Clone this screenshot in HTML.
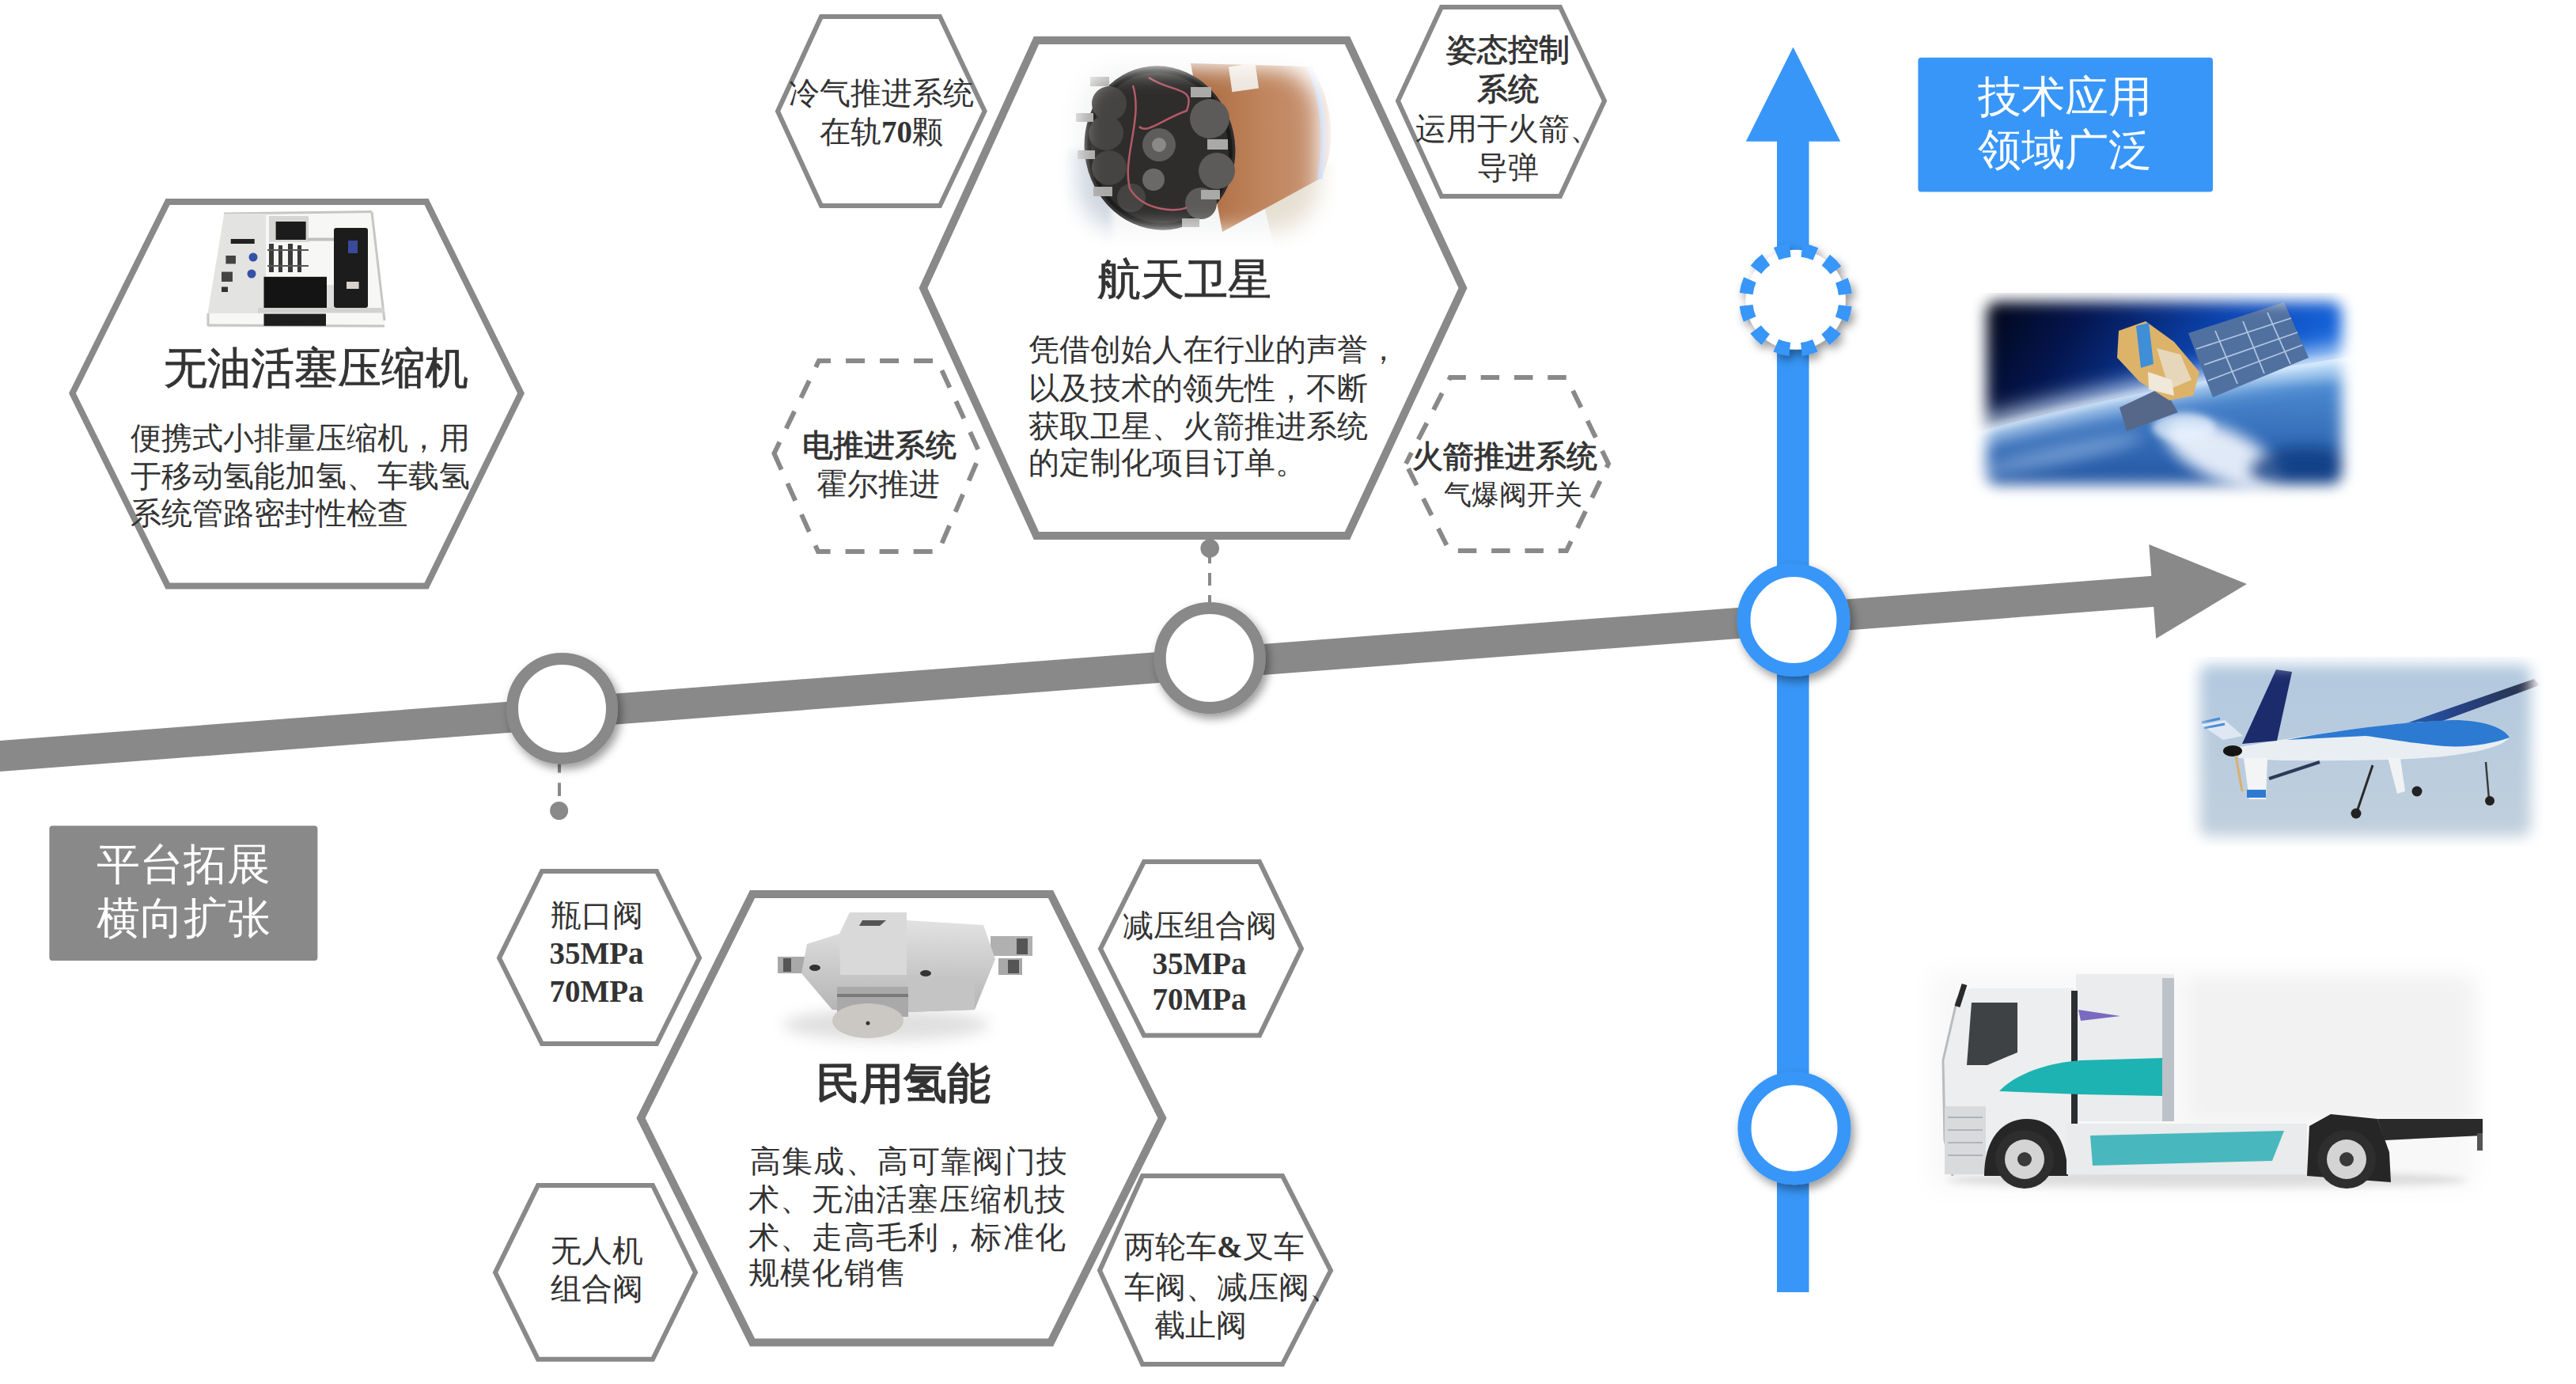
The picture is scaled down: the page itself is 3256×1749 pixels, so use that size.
<!DOCTYPE html>
<html><head><meta charset="utf-8">
<style>
html,body{margin:0;padding:0;background:#fff;}
body{width:3256px;height:1749px;overflow:hidden;position:relative;}
svg{position:absolute;left:0;top:0;}
text{font-family:"Liberation Serif",serif;fill:#333;}
</style></head><body>
<svg width="3256" height="1749" viewBox="0 0 3256 1749">
<defs>
<filter id="sh" x="-30%" y="-30%" width="160%" height="160%">
  <feDropShadow dx="4" dy="6" stdDeviation="6" flood-color="#000" flood-opacity="0.4"/>
</filter>
<filter id="soft" x="-10%" y="-10%" width="120%" height="120%"><feGaussianBlur stdDeviation="8"/></filter>
</defs>

<!-- gray timeline -->
<line x1="-5" y1="955.9" x2="2722" y2="747.3" stroke="#898989" stroke-width="39"/>
<polygon points="2716.3,688 2839.9,738 2725.2,807" fill="#898989"/>

<!-- blue vertical arrow -->
<rect x="2246" y="170" width="40.5" height="1463" fill="#3896f8"/>
<polygon points="2266.5,59.4 2326.2,178.7 2206.8,178.7" fill="#3896f8"/>

<!-- hexagons -->
<g fill="#fff" stroke="#898989">
 <polygon stroke-width="8" points="212,255 539,255 658.5,497 539,740.5 212,740.5 91.5,497"/>
 <polygon stroke-width="10" points="1310,51 1703,51 1849,364 1703,677 1310,677 1167,364"/>
 <polygon stroke-width="10" points="951,1130 1328,1130 1469,1413 1328,1696.5 951,1696.5 810,1413"/>
 <polygon stroke-width="6" points="1038,21 1188,21 1244.6,140.5 1188,260 1038,260 983,140.5"/>
 <polygon stroke-width="6" points="1822,9 1972,9 2028,127.5 1972,248 1822,248 1767,127.5"/>
 <polygon stroke-width="6" stroke-dasharray="24 19" stroke-dashoffset="8" points="978.5,573 1035,456 1185,456 1239,574 1186,697 1034,697"/>
 <polygon stroke-width="6" stroke-dasharray="23.5 18.8" stroke-dashoffset="8" points="1777,586 1833,477 1980,477 2033,586 1980,696 1832,696"/>
 <polygon stroke-width="6" points="685,1101 830,1101 884,1210.6 830,1319 685,1319 631,1210.6"/>
 <polygon stroke-width="6" points="1446,1089 1592,1089 1645,1199 1592,1308.6 1446,1308.6 1391,1199"/>
 <polygon stroke-width="6" points="680,1498 825,1498 879,1608 825,1717.7 680,1717.7 626,1608"/>
 <polygon stroke-width="6" points="1444,1486 1621,1486 1682,1605.6 1621,1724 1444,1724 1390,1605.6"/>
</g>

<!-- connectors -->
<line x1="707" y1="1006" x2="707" y2="955" stroke="#898989" stroke-width="4" stroke-dasharray="16.7 12.9"/>
<circle cx="706.6" cy="1024.5" r="11.5" fill="#898989"/>
<line x1="1529" y1="696" x2="1529" y2="770" stroke="#898989" stroke-width="4" stroke-dasharray="16 12"/>
<circle cx="1529.2" cy="693" r="11.8" fill="#898989"/>

<!-- circles -->
<g filter="url(#sh)">
<circle cx="710.5" cy="895.4" r="63" fill="#fff" stroke="#898989" stroke-width="15"/>
<circle cx="1529.2" cy="831.6" r="63" fill="#fff" stroke="#898989" stroke-width="15"/>
<circle cx="2267" cy="783.5" r="63" fill="#fff" stroke="#3896f8" stroke-width="17"/>
<circle cx="2268" cy="1425.7" r="63" fill="#fff" stroke="#3896f8" stroke-width="17"/>
<circle cx="2269.7" cy="378.8" r="63" fill="#fff" stroke="#3896f8" stroke-width="17" stroke-dasharray="18 14.98" stroke-dashoffset="25.5"/>
</g>

<!-- boxes -->
<rect x="62.4" y="1043.6" width="339" height="170.4" rx="4" fill="#898989"/>
<rect x="2424.4" y="72.8" width="372.6" height="169.7" rx="4" fill="#3896f8"/>
<g style="fill:#fff" font-size="55" text-anchor="middle">
 <text x="232" y="1111" style="fill:#fff">平台拓展</text>
 <text x="232" y="1179" style="fill:#fff">横向扩张</text>
 <text x="2610" y="141" style="fill:#fff">技术应用</text>
 <text x="2610" y="208" style="fill:#fff">领域广泛</text>
</g>

<!-- IMAGES -->
<defs>
 <filter id="b10" x="-100%" y="-100%" width="300%" height="300%"><feGaussianBlur stdDeviation="9"/></filter>
 <filter id="b4" x="-100%" y="-100%" width="300%" height="300%"><feGaussianBlur stdDeviation="4"/></filter>
 <filter id="b2" x="-100%" y="-100%" width="300%" height="300%"><feGaussianBlur stdDeviation="1.5"/></filter>
 <filter id="b14" x="-100%" y="-100%" width="300%" height="300%"><feGaussianBlur stdDeviation="14"/></filter>
 <mask id="m_sat" maskUnits="userSpaceOnUse" x="2400" y="300" width="700" height="400"><rect x="2511" y="381" width="449" height="231" rx="14" fill="#fff" filter="url(#b10)"/></mask>
 <mask id="m_dr" maskUnits="userSpaceOnUse" x="2700" y="780" width="556" height="340"><rect x="2780" y="840" width="419" height="217" rx="12" fill="#fff" filter="url(#b10)"/></mask>
 <mask id="m_tr" maskUnits="userSpaceOnUse" x="2350" y="1150" width="860" height="420"><rect x="2440" y="1228" width="690" height="275" rx="20" fill="#fff" filter="url(#b14)"/></mask>
 <mask id="m_th" maskUnits="userSpaceOnUse" x="1300" y="30" width="430" height="320"><rect x="1362" y="86" width="305" height="206" rx="60" fill="#fff" filter="url(#b14)"/></mask>
 <linearGradient id="g_sp" x1="0" y1="0" x2="1" y2="0.35">
  <stop offset="0" stop-color="#010208"/><stop offset="0.3" stop-color="#041650"/><stop offset="0.65" stop-color="#0c48b8"/><stop offset="1" stop-color="#1a70e8"/>
 </linearGradient>
 <linearGradient id="g_ea" x1="0" y1="0" x2="0" y2="1">
  <stop offset="0" stop-color="#a8d4f8"/><stop offset="0.22" stop-color="#4a88d0"/><stop offset="1" stop-color="#1a4a98"/>
 </linearGradient>
 <linearGradient id="g_dr" x1="0" y1="0" x2="0" y2="1">
  <stop offset="0" stop-color="#b1c8df"/><stop offset="1" stop-color="#c2d0dc"/>
 </linearGradient>
 <linearGradient id="g_wing" x1="0" y1="0" x2="1" y2="0">
  <stop offset="0" stop-color="#2d73cc"/><stop offset="0.5" stop-color="#26438a"/><stop offset="1" stop-color="#2a3040"/>
 </linearGradient>
 <linearGradient id="g_brown" x1="0" y1="0" x2="1" y2="0">
  <stop offset="0" stop-color="#a8683e"/><stop offset="0.5" stop-color="#bf845c"/><stop offset="1" stop-color="#c9987a"/>
 </linearGradient>
 <linearGradient id="g_metal" x1="0" y1="0" x2="0" y2="1">
  <stop offset="0" stop-color="#e2e2e2"/><stop offset="1" stop-color="#b4b4b4"/>
 </linearGradient>
</defs>

<!-- satellite -->
<g mask="url(#m_sat)">
 <rect x="2490" y="370" width="490" height="260" fill="url(#g_sp)"/>
 <path d="M2490,548 Q2700,490 2990,448 L2990,640 L2490,640 Z" fill="url(#g_ea)"/>
 <path d="M2490,548 Q2700,490 2990,448" fill="none" stroke="#dff0ff" stroke-width="26" filter="url(#b14)" opacity="0.95"/>
 <path d="M2490,548 Q2700,490 2990,448" fill="none" stroke="#f0f8ff" stroke-width="6" filter="url(#b4)" opacity="0.8"/>
 <ellipse cx="2810" cy="575" rx="80" ry="32" transform="rotate(25 2810 575)" fill="#f4f8ff" opacity="0.9" filter="url(#b10)"/>
 <ellipse cx="2760" cy="540" rx="40" ry="18" fill="#e8f2ff" opacity="0.7" filter="url(#b4)"/>
 <ellipse cx="2600" cy="575" rx="110" ry="12" transform="rotate(-12 2600 575)" fill="#a8c8ec" opacity="0.5" filter="url(#b10)"/>
 <ellipse cx="2915" cy="595" rx="70" ry="30" fill="#0e3a80" opacity="0.8" filter="url(#b10)"/>
 <polygon points="2766,421 2887,382 2918,452 2797,502" fill="#5070a0"/>
 <g stroke="#c8dcf2" stroke-width="1.8" opacity="0.8">
  <line x1="2776" y1="441" x2="2896" y2="402"/><line x1="2786" y1="461" x2="2904" y2="420"/><line x1="2791" y1="481" x2="2910" y2="436"/>
  <line x1="2800" y1="418" x2="2828" y2="485"/><line x1="2835" y1="406" x2="2862" y2="472"/><line x1="2866" y1="395" x2="2895" y2="460"/>
 </g>
 <polygon points="2679,515 2734,489 2753,521 2688,545" fill="#56688a"/>
 <polygon points="2678,418 2712,406 2748,432 2780,470 2772,500 2742,506 2704,482 2676,452" fill="#ddb36a"/>
 <polygon points="2700,412 2716,408 2722,460 2706,465" fill="#3e8ed8"/>
 <polygon points="2726,440 2756,448 2770,480 2742,492" fill="#e8e0d0" opacity="0.8"/>
 <polygon points="2715,470 2745,480 2748,500 2716,492" fill="#f0e8d8"/>
</g>

<!-- drone -->
<g mask="url(#m_dr)">
 <rect x="2765" y="830" width="450" height="240" fill="url(#g_dr)"/>
 <polygon points="2992,931 3203,858 3210,866 3052,924" fill="url(#g_wing)"/>
 <path d="M2825,945 C2880,935 2960,922 3040,914 C3100,908 3150,912 3172,932 C3160,948 3100,958 3020,960 C2940,962 2870,962 2830,958 Z" fill="#e9eef3"/>
 <path d="M2890,935 C2960,922 3040,912 3100,910 C3140,910 3165,920 3172,932 C3150,940 3120,945 3090,943 C3050,940 3010,932 2990,930 Z" fill="#2d7ad2"/>
 <polygon points="2834,940 2877,846 2897,849 2878,936" fill="#1c2b6c"/>
 <polygon points="2782,916 2812,910 2835,930 2810,935" fill="#dfe8f2"/>
 <line x1="2783" y1="913" x2="2806" y2="908" stroke="#4a8ad8" stroke-width="3"/>
 <line x1="2786" y1="920" x2="2812" y2="915" stroke="#4a8ad8" stroke-width="3"/>
 <ellipse cx="2822" cy="949" rx="12" ry="7" fill="#151515"/>
 <polygon points="2836,958 2866,958 2864,1010 2843,1010" fill="#f2f4f6"/>
 <rect x="2840" y="998" width="24" height="10" fill="#2d7ad2"/>
 <line x1="2826" y1="955" x2="2834" y2="1000" stroke="#d8b070" stroke-width="3"/>
 <line x1="2868" y1="984" x2="2932" y2="963" stroke="#2c3a58" stroke-width="4"/>
 <polygon points="3018,957 3034,958 3040,1000 3030,1003" fill="#f0f2f4"/>
 <line x1="2999" y1="967" x2="2979" y2="1026" stroke="#2a2a2a" stroke-width="3"/>
 <circle cx="2978" cy="1028" r="6.5" fill="#222"/><circle cx="3055" cy="1000" r="6.5" fill="#222"/>
 <line x1="3142" y1="963" x2="3146" y2="1010" stroke="#3a3a3a" stroke-width="2.5"/>
 <circle cx="3147" cy="1012" r="6" fill="#222"/>
</g>

<!-- truck -->
<g mask="url(#m_tr)">
 <rect x="2400" y="1200" width="780" height="340" fill="#f8f8f8"/>
 <rect x="2770" y="1230" width="370" height="185" fill="#f2f2f2" filter="url(#b10)"/>
 <ellipse cx="2790" cy="1492" rx="330" ry="12" fill="#d6d6d6" filter="url(#b4)"/>
</g>
<g>
 <path d="M2474,1262 L2490,1249 L2621,1249 L2627,1420 L2616,1486 L2468,1486 L2456,1440 L2458,1340 Z" fill="#eceeef"/>
 <path d="M2474,1262 L2456,1340 L2458,1440 L2468,1486" stroke="#b8bcbf" stroke-width="3" fill="none"/>
 <rect x="2624" y="1231" width="124" height="186" fill="#ebecee"/>
 <rect x="2733" y="1236" width="15" height="181" fill="#bcc2c8"/>
 <rect x="2618" y="1252" width="8" height="168" fill="#2c2f32"/>
 <polygon points="2492,1267 2550,1267 2550,1330 2512,1346 2486,1346" fill="#3e4245"/>
 <line x1="2483" y1="1244" x2="2474" y2="1272" stroke="#2a2a2a" stroke-width="7"/>
 <path d="M2527,1379 C2545,1360 2580,1344 2630,1340 L2733,1337 L2733,1385 L2630,1383 Z" fill="#1db3b2"/>
 <polygon points="2627,1276 2680,1284 2630,1290" fill="#7a6ac0"/>
 <rect x="2458" y="1398" width="52" height="86" fill="#d8dadc"/>
 <g stroke="#b0b4b8" stroke-width="2"><line x1="2462" y1="1412" x2="2506" y2="1412"/><line x1="2462" y1="1428" x2="2506" y2="1428"/><line x1="2462" y1="1444" x2="2506" y2="1444"/><line x1="2462" y1="1460" x2="2506" y2="1460"/></g>
 <path d="M2508,1486 C2508,1440 2530,1414 2562,1414 C2592,1414 2612,1436 2614,1486 Z" fill="#262626"/>
 <path d="M2612,1420 L2916,1420 L2916,1484 L2612,1484 Z" fill="#e9ebec"/>
 <path d="M2642,1435 L2887,1429 L2872,1467 L2645,1473 Z" fill="#48b8be"/>
 <path d="M2916,1486 L2919,1423 L2946,1408 L3005,1414 L3020,1456 L3022,1494 Z" fill="#262626"/>
 <path d="M3005,1414 L3138,1414 L3138,1435 L3014,1441 Z" fill="#2a2a2a"/>
 <rect x="3131" y="1432" width="7" height="22" fill="#555"/>
 <circle cx="2559" cy="1465" r="37" fill="#2e2e2e"/><circle cx="2559" cy="1465" r="25" fill="#d4d4d4"/><circle cx="2559" cy="1465" r="9" fill="#3a3a3a"/>
 <circle cx="2966" cy="1465" r="37" fill="#2e2e2e"/><circle cx="2966" cy="1465" r="25" fill="#d4d4d4"/><circle cx="2966" cy="1465" r="9" fill="#3a3a3a"/>
</g>

<!-- compressor -->
<g>
 <polygon points="283,269 470,267 486,396 486,414 263,414 263,396" fill="#f7f7f6"/>
 <g stroke="#c6c6c4" stroke-width="3" fill="none">
  <line x1="283" y1="270" x2="470" y2="267.5"/>
  <line x1="470" y1="268" x2="486" y2="405"/>
  <line x1="263" y1="411" x2="486" y2="412"/>
  <line x1="263" y1="396" x2="263" y2="412"/>
 </g>
 <polygon points="283.5,270 336,270 336,396 262.5,396" fill="#e3e3e1"/>
 <rect x="340" y="273" width="50" height="33" fill="#d6d6d4"/>
 <rect x="348.6" y="280" width="38" height="23" fill="#1c1c1c"/>
 <rect x="389" y="300.5" width="34" height="4" fill="#c0c0be"/>
 <g fill="#3a3a3a">
  <rect x="340" y="308" width="6" height="36"/><rect x="352" y="310" width="5" height="34"/><rect x="364" y="308" width="6" height="36"/><rect x="376" y="310" width="5" height="34"/>
 </g>
 <g stroke="#555" stroke-width="2" fill="none">
  <path d="M338,316 L390,316 M338,336 L390,336"/>
 </g>
 <rect x="333.5" y="349.8" width="79.5" height="39.2" fill="#141414"/>
 <rect x="422" y="288" width="43" height="101" rx="3" fill="#1c1c1c"/>
 <rect x="440" y="304" width="12" height="16" fill="#3a4a9a"/>
 <rect x="438" y="356" width="15.6" height="9" fill="#d8d4cc"/>
 <rect x="413" y="360" width="9" height="29" fill="#dedede"/>
 <rect x="326" y="389" width="160" height="6.4" fill="#d2d2d0"/>
 <rect x="333.5" y="396.6" width="78.5" height="15.2" fill="#1e1e1e"/>
 <rect x="291.7" y="302" width="30" height="6" fill="#222"/>
 <rect x="285.4" y="323" width="12.6" height="10.4" fill="#444"/>
 <rect x="280" y="343.5" width="14" height="12.5" fill="#444"/>
 <rect x="280" y="362.5" width="8" height="6.5" fill="#333"/>
 <circle cx="320" cy="325" r="5.5" fill="#3450a8"/><circle cx="318" cy="346" r="5.5" fill="#3450a8"/>
</g>

<!-- thruster -->
<g mask="url(#m_th)">
 <rect x="1330" y="60" width="370" height="260" fill="#f3f4f5"/>
 <rect x="1345" y="190" width="60" height="120" fill="#cfd6df" filter="url(#b4)"/>
 <polygon points="1590,228 1690,205 1690,310 1610,310" fill="#e6dfd2"/>
 <path d="M1505,80 L1655,84 C1685,120 1692,190 1668,226 L1545,293 Z" fill="url(#g_brown)"/>
 <rect x="1555" y="82" width="34" height="32" fill="#ede6de" transform="rotate(-8 1572 98)"/>
 <path d="M1655,84 C1672,120 1678,180 1668,226" stroke="#9fb4dc" stroke-width="7" fill="none"/>
 <ellipse cx="1466" cy="187" rx="95" ry="104" transform="rotate(-12 1466 187)" fill="#2e2d2c"/>
 <ellipse cx="1466" cy="187" rx="89" ry="98" transform="rotate(-12 1466 187)" fill="none" stroke="#1a1a1a" stroke-width="5"/>
 <g fill="#5c5b59">
  <circle cx="1529" cy="150" r="25"/><circle cx="1538" cy="216" r="23"/><circle cx="1518" cy="257" r="20"/>
 </g>
 <g fill="#454443">
  <circle cx="1402" cy="131" r="22"/><circle cx="1398" cy="168" r="22"/><circle cx="1402" cy="212" r="22"/><circle cx="1430" cy="250" r="18"/>
 </g>
 <circle cx="1465" cy="183" r="21" fill="#5e5d5b"/><circle cx="1465" cy="183" r="9" fill="#8a8987"/>
 <circle cx="1458" cy="227" r="14" fill="#6a6967"/>
 <g fill="#a9a9a7">
  <rect x="1378" y="97" width="24" height="12"/><rect x="1360" y="143" width="22" height="11"/><rect x="1362" y="190" width="22" height="11"/>
  <rect x="1382" y="236" width="24" height="12"/><rect x="1505" y="110" width="26" height="13"/><rect x="1526" y="176" width="26" height="13"/>
  <rect x="1518" y="240" width="24" height="12"/><rect x="1494" y="276" width="22" height="11"/>
 </g>
 <path d="M1432,108 C1445,150 1418,200 1428,238 C1445,268 1490,268 1500,262" stroke="#b45a66" stroke-width="2.5" fill="none"/>
 <path d="M1452,98 C1482,118 1512,108 1500,140 C1470,150 1450,170 1440,160" stroke="#b45a66" stroke-width="2.5" fill="none"/>
</g>

<!-- valve -->
<g>
 <ellipse cx="1120" cy="1295" rx="130" ry="20" fill="#999" opacity="0.3" filter="url(#b10)"/>
 <rect x="983" y="1209" width="38" height="21" fill="#a8a8a8"/>
 <rect x="990" y="1211" width="10" height="17" fill="#555"/>
 <rect x="1252" y="1183" width="53" height="25" fill="#b0b0b0"/>
 <rect x="1285" y="1186" width="14" height="20" fill="#555"/>
 <rect x="1262" y="1211" width="30" height="21" fill="#a8a8a8"/>
 <rect x="1274" y="1213" width="14" height="17" fill="#555"/>
 <polygon points="1020,1193 1061,1180 1146,1163 1243,1169 1258,1212 1232,1276 1146,1279 1052,1276 1013,1230" fill="url(#g_metal)"/>
 <polygon points="1074,1153 1146,1153 1146,1232 1062,1232 1061,1180" fill="#d9d9d9"/>
 <polygon points="1146,1232 1232,1236 1232,1276 1146,1279" fill="#c4c4c4"/>
 <rect x="1058" y="1247" width="90" height="38" fill="#a9a9a9"/>
 <rect x="1058" y="1256" width="90" height="4" fill="#7a7a7a"/>
 <ellipse cx="1097" cy="1290" rx="45" ry="22" fill="#cbc7c3"/>
 <circle cx="1097" cy="1293" r="2.5" fill="#333"/>
 <ellipse cx="1030" cy="1223" rx="7" ry="4" fill="#333"/>
 <ellipse cx="1170" cy="1230" rx="7" ry="4" fill="#333"/>
 <polygon points="1090,1163 1120,1163 1112,1170 1086,1170" fill="#555"/>
</g>

<!-- hex texts -->
<g font-size="55" text-anchor="middle">
 <text x="399" y="484" stroke="#333" stroke-width="0.8">无油活塞压缩机</text>
 <text x="1497" y="372" stroke="#333" stroke-width="0.8">航天卫星</text>
 <text x="1142" y="1388" font-weight="bold" style="font-family:'Liberation Sans',sans-serif">民用氢能</text>
</g>
<g font-size="39">
 <text x="165" y="567">便携式小排量压缩机，用</text>
 <text x="165" y="615">于移动氢能加氢、车载氢</text>
 <text x="165" y="662">系统管路密封性检查</text>
 <text x="1300" y="455">凭借创始人在行业的声誉，</text>
 <text x="1300" y="504">以及技术的领先性，不断</text>
 <text x="1300" y="552">获取卫星、火箭推进系统</text>
 <text x="1300" y="598">的定制化项目订单。</text>
 <g letter-spacing="1.2"><text x="948" y="1481">高集成、高可靠阀门技</text>
 <text x="946" y="1529">术、无油活塞压缩机技</text>
 <text x="946" y="1577">术、走高毛利，标准化</text>
 <text x="946" y="1622">规模化销售</text></g>
</g>
<g font-size="39" text-anchor="middle">
 <text x="1114" y="131">冷气推进系统</text>
 <text x="1114" y="180">在轨<tspan font-weight="bold">70</tspan>颗</text>
 <text x="1906" y="76" stroke="#333" stroke-width="0.9">姿态控制</text>
 <text x="1906" y="126" stroke="#333" stroke-width="0.9">系统</text>
 <text x="1789" y="176" text-anchor="start">运用于火箭、</text>
 <text x="1906" y="225">导弹</text>
 <text x="1111" y="576" stroke="#333" stroke-width="0.9">电推进系统</text>
 <text x="1110" y="625">霍尔推进</text>
 <text x="1902" y="590" stroke="#333" stroke-width="0.9">火箭推进系统</text>
 <text x="754" y="1170">瓶口阀</text>
 <text x="754" y="1218" font-weight="bold">35MPa</text>
 <text x="754" y="1266" font-weight="bold">70MPa</text>
 <text x="1516" y="1183">减压组合阀</text>
 <text x="1516" y="1231" font-weight="bold">35MPa</text>
 <text x="1516" y="1276" font-weight="bold">70MPa</text>
 <text x="754" y="1594">无人机</text>
 <text x="754" y="1642">组合阀</text>
 <text x="1421" y="1589" text-anchor="start">两轮车<tspan font-weight="bold">&amp;</tspan>叉车</text>
 <text x="1421" y="1640" text-anchor="start">车阀、减压阀、</text>
 <text x="1517" y="1688">截止阀</text>
</g>
<g font-size="35" text-anchor="middle">
 <text x="1912" y="637">气爆阀开关</text>
</g>
</svg>
</body></html>
